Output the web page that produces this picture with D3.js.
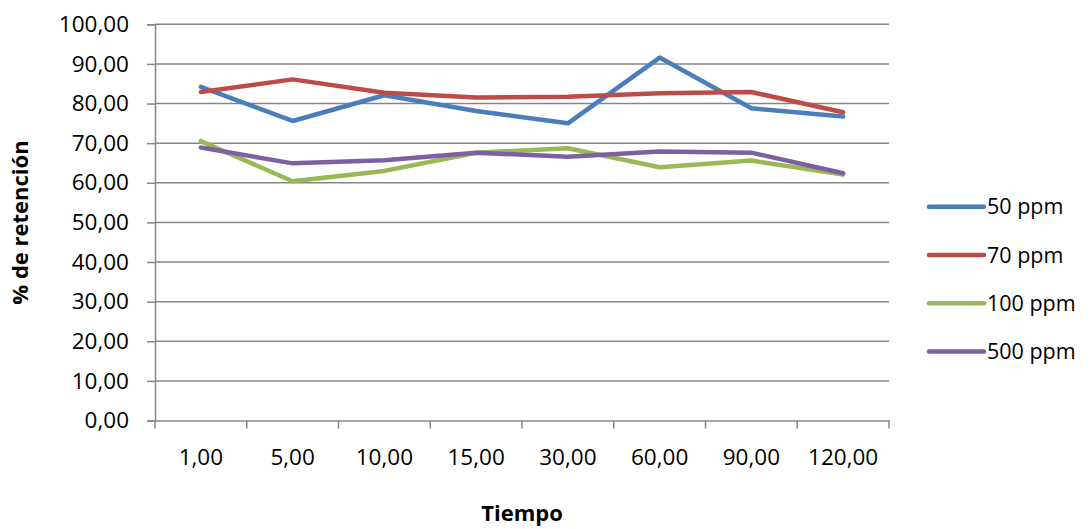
<!DOCTYPE html>
<html>
<head>
    <meta charset="utf-8" />
    <script src="https://cdn.jsdelivr.net/npm/d3@7/dist/d3.min.js"></script>
    <style>
        body { margin: 0; background: #fff; }
        text { font-family: "Open Sans", sans-serif; fill: #000; }
    </style>
</head>
<body>
    <script>
        // data
        var tiempos = ["1,00", "5,00", "10,00", "15,00", "30,00", "60,00", "90,00", "120,00"];
        var seriesNames = ["50 ppm", "70 ppm", "100 ppm", "500 ppm"];
        var seriesColors = ["#4A7EBB", "#BE4B48", "#98B954", "#7D60A0"];
        var ppm50 = [84.2, 75.6, 82.1, 78.1, 75.0, 91.6, 78.8, 76.7];
        var ppm70 = [82.9, 86.1, 82.7, 81.5, 81.7, 82.6, 82.9, 77.8];
        var ppm100 = [70.5, 60.4, 63.0, 67.6, 68.7, 63.9, 65.6, 62.1];
        var ppm500 = [68.9, 64.9, 65.7, 67.6, 66.6, 67.9, 67.6, 62.4];
        var yTicks = [0, 10, 20, 30, 40, 50, 60, 70, 80, 90, 100];

        var allSeries = [ppm50, ppm70, ppm100, ppm500];

        var width = 1092,
            height = 529,
            plotLeft = 155, plotRight = 889, plotTop = 24.3, plotBottom = 420.5;

        var svg = d3.select("body").append("svg")
            .attr("width", width)
            .attr("height", height);

        var x = d3.scaleBand()
            .domain(tiempos)
            .range([plotLeft, plotRight]);

        var y = d3.scaleLinear()
            .domain([0, 100])
            .range([plotBottom, plotTop]);

        var fmt = function (v) { return d3.format(".2f")(v).replace(".", ","); };

        // gridlines
        svg.append("g")
            .selectAll("line")
            .data(yTicks.slice(1))
            .enter().append("line")
            .attr("x1", plotLeft).attr("x2", plotRight)
            .attr("y1", function (d) { return y(d); })
            .attr("y2", function (d) { return y(d); })
            .attr("stroke", "#868686")
            .attr("stroke-width", 1.5);

        // y axis
        var yAxis = svg.append("g")
            .attr("transform", "translate(" + plotLeft + ",0)")
            .call(d3.axisLeft(y).tickValues(yTicks).tickFormat(fmt).tickSize(8).tickPadding(18));
        yAxis.select(".domain").attr("stroke", "#868686").attr("stroke-width", 1.5);
        yAxis.selectAll(".tick line").attr("stroke", "#868686").attr("stroke-width", 1.5);
        yAxis.selectAll("text").attr("font-size", "22.5px").attr("font-family", "Open Sans").attr("fill", "#000");

        // x axis
        var xAxis = svg.append("g")
            .attr("transform", "translate(0," + plotBottom + ")")
            .call(d3.axisBottom(x).tickSize(0).tickPadding(29));
        xAxis.select(".domain").attr("stroke", "#868686").attr("stroke-width", 1.5);
        xAxis.selectAll("text").attr("font-size", "22.5px").attr("font-family", "Open Sans").attr("fill", "#000");

        // x tick marks at band boundaries
        var bounds = tiempos.map(function (t) { return x(t); }).concat([plotRight]);
        svg.append("g")
            .selectAll("line")
            .data(bounds)
            .enter().append("line")
            .attr("x1", function (d) { return d; })
            .attr("x2", function (d) { return d; })
            .attr("y1", plotBottom)
            .attr("y2", plotBottom + 8)
            .attr("stroke", "#868686")
            .attr("stroke-width", 1.5);

        // lines
        var line = d3.line()
            .x(function (d, i) { return x(tiempos[i]) + x.bandwidth() / 2; })
            .y(function (d) { return y(d); });

        svg.append("g")
            .selectAll("path")
            .data(allSeries)
            .enter().append("path")
            .attr("d", line)
            .attr("fill", "none")
            .attr("stroke", function (d, i) { return seriesColors[i]; })
            .attr("stroke-width", 4.5)
            .attr("stroke-linejoin", "round")
            .attr("stroke-linecap", "round");

        // legend
        var legend = svg.append("g")
            .selectAll("g")
            .data(seriesNames)
            .enter().append("g")
            .attr("transform", function (d, i) { return "translate(929," + (206.7 + i * 48.3) + ")"; });
        legend.append("line")
            .attr("x1", 0).attr("x2", 55)
            .attr("stroke", function (d, i) { return seriesColors[i]; })
            .attr("stroke-width", 4.5)
            .attr("stroke-linecap", "round");
        legend.append("text")
            .attr("x", 58)
            .attr("dy", "0.35em")
            .attr("font-size", "21.5px")
            .text(function (d) { return d; });

        // axis titles
        svg.append("text")
            .attr("transform", "translate(28,222.5) rotate(-90)")
            .attr("text-anchor", "middle")
            .attr("font-size", "22px")
            .attr("font-weight", "bold")
            .text("% de retención");

        svg.append("text")
            .attr("x", 522)
            .attr("y", 521)
            .attr("text-anchor", "middle")
            .attr("font-size", "22px")
            .attr("font-weight", "bold")
            .text("Tiempo");
    </script>
</body>
</html>
